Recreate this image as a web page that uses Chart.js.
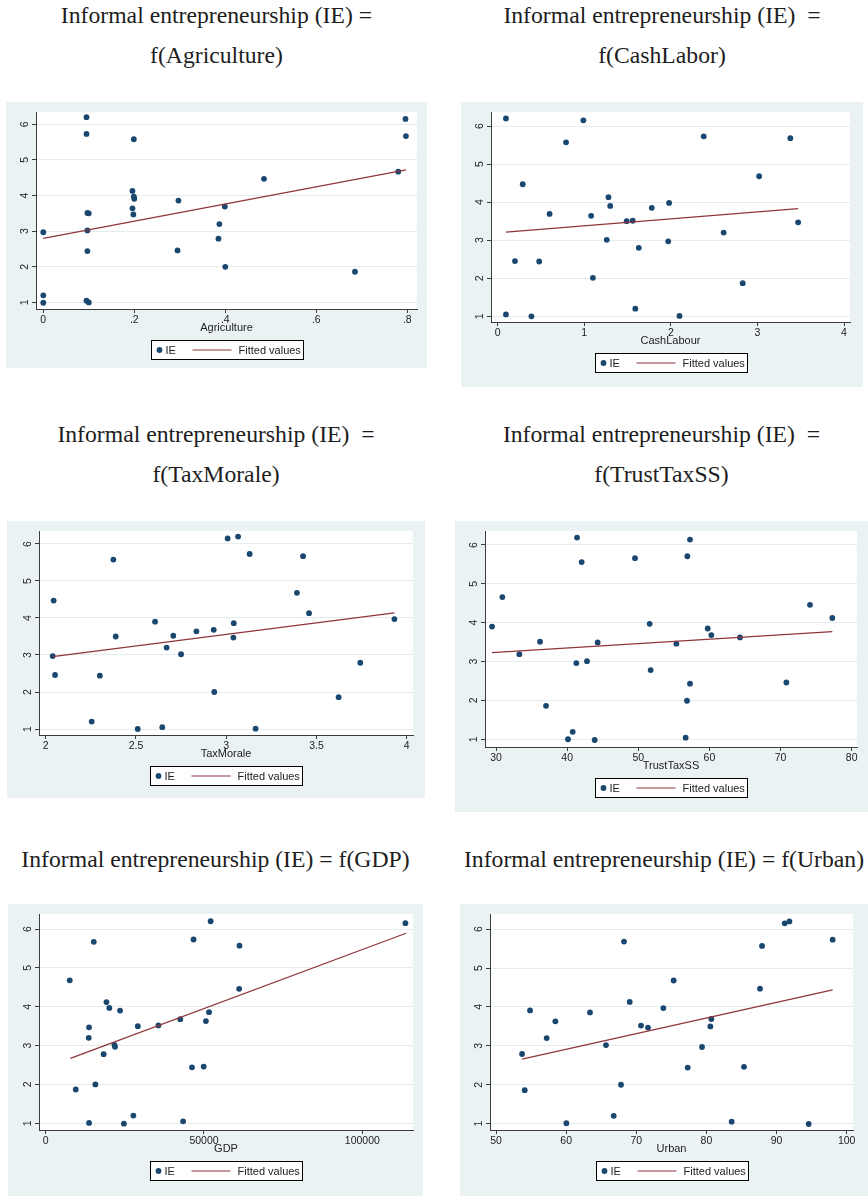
<!DOCTYPE html>
<html>
<head>
<meta charset="utf-8">
<script src="https://cdn.jsdelivr.net/npm/chart.js@4.4.1/dist/chart.umd.min.js"></script>
<style>
  html, body { margin: 0; padding: 0; background: #ffffff; }
  body { position: relative; width: 868px; height: 1196px; overflow: hidden; }
  .title {
    position: absolute;
    font-family: 'Liberation Serif', 'Times New Roman', serif;
    font-size: 23.7px;
    line-height: 40px;
    color: #1d1d1d;
    text-align: center;
    white-space: pre;
  }
  canvas { position: absolute; background: #eaf2f3; }
</style>
</head>
<body>
<script>
// ---- IE axis (shared by all six panels) ----
const ieTicks = [1, 2, 3, 4, 5, 6];
const ieTickLabels = ['1', '2', '3', '4', '5', '6'];

// ---- IE vs Agriculture ----
const agricultureX = [0.095, 0.095, 0.199, 0.796, 0.797, 0.780, 0.485, 0.196, 0.199, 0.200, 0.297, 0.399, 0.196, 0.097,
  0.100, 0.198, 0.387, 0.000, 0.097, 0.385, 0.097, 0.295, 0.400, 0.685, 0.000, 0.000, 0.095, 0.100];
const agricultureIE = [6.20, 5.73, 5.58, 6.15, 5.67, 4.67, 4.47, 4.13, 3.97, 3.91, 3.86, 3.69, 3.64, 3.51,
  3.50, 3.47, 3.20, 2.97, 3.02, 2.79, 2.44, 2.46, 2.00, 1.86, 1.20, 0.99, 1.05, 1.00];
const agricultureFitX = [0, 0.797];
const agricultureFitIE = [2.80, 4.72];
const agricultureTicks = [0, 0.2, 0.4, 0.6, 0.8];
const agricultureTickLabels = ['0', '.2', '.4', '.6', '.8'];

// ---- IE vs CashLabour ----
const cashLabourX = [0.096, 0.99, 0.79, 2.38, 3.38, 3.02, 0.29, 1.28, 1.30, 1.98, 1.78, 0.60, 1.08, 1.49,
  1.56, 3.47, 2.61, 1.26, 1.97, 1.63, 0.20, 0.48, 1.10, 2.83, 1.59, 0.096, 0.39, 2.10];
const cashLabourIE = [6.20, 6.15, 5.57, 5.73, 5.68, 4.68, 4.47, 4.13, 3.90, 3.98, 3.85, 3.69, 3.64, 3.50,
  3.51, 3.47, 3.20, 3.01, 2.97, 2.80, 2.45, 2.44, 2.01, 1.87, 1.20, 1.05, 1.00, 1.01];
const cashLabourFitX = [0.096, 3.47];
const cashLabourFitIE = [3.21, 3.83];
const cashLabourTicks = [0, 1, 2, 3, 4];
const cashLabourTickLabels = ['0', '1', '2', '3', '4'];

// ---- IE vs TaxMorale ----
const taxMoraleX = [3.066, 3.008, 3.130, 3.426, 2.375, 3.392, 2.044, 3.459, 3.932, 2.606, 3.042, 2.931, 2.835, 2.707,
  2.388, 3.040, 2.670, 2.750, 2.039, 3.743, 2.052, 2.300, 2.934, 3.623, 2.255, 2.646, 2.510, 3.163];
const taxMoraleIE = [6.20, 6.15, 5.73, 5.67, 5.58, 4.68, 4.47, 4.13, 3.97, 3.90, 3.86, 3.68, 3.64, 3.52,
  3.50, 3.47, 3.20, 3.02, 2.97, 2.79, 2.46, 2.44, 2.00, 1.86, 1.20, 1.05, 1.00, 1.01];
const taxMoraleFitX = [2.039, 3.932];
const taxMoraleFitIE = [2.955, 4.14];
const taxMoraleTicks = [2, 2.5, 3, 3.5, 4];
const taxMoraleTickLabels = ['2', '2.5', '3', '3.5', '4'];

// ---- IE vs TrustTaxSS ----
const trustTaxX = [41.39, 57.27, 56.90, 49.54, 42.04, 30.89, 74.14, 77.28, 29.44, 51.60, 59.76, 60.27, 64.30, 36.19,
  44.29, 55.35, 33.28, 42.79, 41.29, 51.74, 57.27, 70.82, 56.85, 37.03, 40.78, 56.66, 40.12, 43.87];
const trustTaxIE = [6.19, 6.14, 5.71, 5.66, 5.56, 4.66, 4.46, 4.12, 3.90, 3.97, 3.85, 3.68, 3.62, 3.51,
  3.49, 3.46, 3.19, 3.01, 2.96, 2.78, 2.43, 2.46, 1.99, 1.86, 1.19, 1.04, 1.00, 0.98];
const trustTaxFitX = [29.44, 77.28];
const trustTaxFitIE = [3.23, 3.77];
const trustTaxTicks = [30, 40, 50, 60, 70, 80];
const trustTaxTickLabels = ['30', '40', '50', '60', '70', '80'];

// ---- IE vs GDP ----
const gdpX = [52100, 113600, 15200, 46700, 61200, 7600, 61100, 19200, 20100, 23500, 51600, 42500, 50600, 35600,
  13700, 29100, 13600, 21700, 21900, 18300, 46200, 49900, 15700, 9500, 27700, 43400, 13700, 24700];
const gdpIE = [6.20, 6.15, 5.67, 5.73, 5.57, 4.68, 4.46, 4.12, 3.97, 3.90, 3.86, 3.68, 3.63, 3.52,
  3.47, 3.50, 3.20, 3.02, 2.97, 2.78, 2.44, 2.46, 2.00, 1.87, 1.20, 1.05, 1.01, 0.99];
const gdpFitX = [7800, 113800];
const gdpFitIE = [2.67, 5.89];
const gdpTicks = [0, 50000, 100000];
const gdpTickLabels = ['0', '50000', '100000'];

// ---- IE vs Urban ----
const urbanX = [91.16, 91.83, 68.25, 87.93, 98.00, 75.33, 87.64, 69.06, 73.86, 54.85, 63.40, 80.70, 58.46, 70.67,
  71.67, 80.56, 57.22, 65.68, 79.37, 53.71, 77.33, 85.36, 67.82, 54.09, 66.78, 83.60, 60.03, 94.58];
const urbanIE = [6.15, 6.20, 5.68, 5.57, 5.73, 4.68, 4.47, 4.13, 3.97, 3.91, 3.86, 3.69, 3.63, 3.52,
  3.47, 3.50, 3.20, 3.02, 2.97, 2.79, 2.44, 2.46, 2.00, 1.86, 1.20, 1.05, 1.01, 0.99];
const urbanFitX = [53.71, 98.0];
const urbanFitIE = [2.66, 4.44];
const urbanTicks = [50, 60, 70, 80, 90, 100];
const urbanTickLabels = ['50', '60', '70', '80', '90', '100'];

// ---- styling ----
const SANS = "'Liberation Sans', Arial, Helvetica, sans-serif";
const NAVY = '#1a476f';
const MAROON = '#90353b';
const AXIS = '#3c3c3c';
const TEXT = '#222222';
const X_AXIS_H = 26;

const panels = [
  { title: 'Informal entrepreneurship (IE) =\nf(Agriculture)', titleTop: -5, xTitle: 'Agriculture',
    x: agricultureX, y: agricultureIE, fitX: agricultureFitX, fitY: agricultureFitIE,
    xTicks: agricultureTicks, xLabels: agricultureTickLabels,
    box: { l: 6, t: 102, w: 421, h: 266 }, plot: { l: 36, t: 112, r: 417, b: 309 },
    xRange: [-0.016, 0.8213], yRange: [0.815, 6.345] },
  { title: 'Informal entrepreneurship (IE)  =\nf(CashLabor)', titleTop: -5, xTitle: 'CashLabour',
    x: cashLabourX, y: cashLabourIE, fitX: cashLabourFitX, fitY: cashLabourFitIE,
    xTicks: cashLabourTicks, xLabels: cashLabourTickLabels,
    box: { l: 461, t: 102, w: 402, h: 285 }, plot: { l: 491, t: 112, r: 850, b: 322 },
    xRange: [-0.0765, 4.069], yRange: [0.85, 6.368] },
  { title: 'Informal entrepreneurship (IE)  =\nf(TaxMorale)', titleTop: 414, xTitle: 'TaxMorale',
    x: taxMoraleX, y: taxMoraleIE, fitX: taxMoraleFitX, fitY: taxMoraleFitIE,
    xTicks: taxMoraleTicks, xLabels: taxMoraleTickLabels,
    box: { l: 7, t: 521, w: 418, h: 277 }, plot: { l: 39, t: 531, r: 413, b: 735 },
    xRange: [1.963, 4.035], yRange: [0.838, 6.351] },
  { title: 'Informal entrepreneurship (IE)  =\nf(TrustTaxSS)', titleTop: 414, xTitle: 'TrustTaxSS',
    x: trustTaxX, y: trustTaxIE, fitX: trustTaxFitX, fitY: trustTaxFitIE,
    xTicks: trustTaxTicks, xLabels: trustTaxTickLabels,
    box: { l: 455, t: 521, w: 413, h: 291 }, plot: { l: 485, t: 531, r: 857, b: 747 },
    xRange: [28.45, 80.75], yRange: [0.80, 6.36] },
  { title: 'Informal entrepreneurship (IE) = f(GDP)', titleTop: 838.7, xTitle: 'GDP',
    x: gdpX, y: gdpIE, fitX: gdpFitX, fitY: gdpFitIE,
    xTicks: gdpTicks, xLabels: gdpTickLabels,
    box: { l: 8, t: 904, w: 415, h: 292 }, plot: { l: 39, t: 914, r: 413, b: 1130 },
    xRange: [-2105, 116000], yRange: [0.828, 6.386] },
  { title: 'Informal entrepreneurship (IE) = f(Urban)', titleTop: 838.7, xTitle: 'Urban',
    x: urbanX, y: urbanIE, fitX: urbanFitX, fitY: urbanFitIE,
    xTicks: urbanTicks, xLabels: urbanTickLabels,
    box: { l: 460, t: 904, w: 408, h: 292 }, plot: { l: 490, t: 914, r: 853, b: 1130 },
    xRange: [49.14, 100.9], yRange: [0.836, 6.39] }
];

// white plot region inside the tinted graph region
const plotBackground = {
  id: 'plotBackground',
  beforeDraw(chart) {
    const { ctx, chartArea: a } = chart;
    ctx.save();
    ctx.fillStyle = '#ffffff';
    ctx.fillRect(a.left, a.top, a.right - a.left, a.bottom - a.top);
    ctx.restore();
  }
};

// boxed legend centred under the plot region
const boxedLegend = {
  id: 'boxedLegend',
  afterDraw(chart) {
    const { ctx, chartArea: a } = chart;
    const ds = chart.data.datasets;
    const w = 152, h = 19;
    const left = Math.round((a.left + a.right) / 2 - w / 2) + 0.5;
    const top = Math.round(a.bottom + 31) + 0.5;
    const cy = top + h / 2;
    ctx.save();
    ctx.fillStyle = '#ffffff';
    ctx.fillRect(left, top, w, h);
    ctx.strokeStyle = '#000000';
    ctx.lineWidth = 1;
    ctx.strokeRect(left, top, w, h);
    ctx.fillStyle = NAVY;
    ctx.beginPath();
    ctx.arc(left + 8, cy, 2.9, 0, Math.PI * 2);
    ctx.fill();
    ctx.font = '11px ' + SANS;
    ctx.fillStyle = TEXT;
    ctx.textAlign = 'left';
    ctx.textBaseline = 'middle';
    ctx.fillText(ds[0].label, left + 14, cy + 0.5);
    ctx.strokeStyle = MAROON;
    ctx.lineWidth = 1.2;
    ctx.beginPath();
    ctx.moveTo(left + 41, cy);
    ctx.lineTo(left + 80, cy);
    ctx.stroke();
    ctx.fillText(ds[1].label, left + 87, cy + 0.5);
    ctx.restore();
  }
};

panels.forEach(p => {
  const t = document.createElement('div');
  t.className = 'title';
  t.textContent = p.title;
  t.style.left = p.box.l + 'px';
  t.style.width = p.box.w + 'px';
  t.style.top = p.titleTop + 'px';
  document.body.appendChild(t);

  const c = document.createElement('canvas');
  c.width = p.box.w;
  c.height = p.box.h;
  c.style.left = p.box.l + 'px';
  c.style.top = p.box.t + 'px';
  c.style.width = p.box.w + 'px';
  c.style.height = p.box.h + 'px';
  document.body.appendChild(c);

  const points = p.x.map((x, i) => ({ x: x, y: p.y[i] }));
  const fit = p.fitX.map((x, i) => ({ x: x, y: p.fitY[i] }));

  new Chart(c, {
    type: 'scatter',
    data: {
      datasets: [
        { label: 'IE', data: points, order: 1, pointRadius: 2.9, pointHoverRadius: 2.9,
          pointBackgroundColor: NAVY, pointBorderWidth: 0, borderColor: NAVY, showLine: false },
        { label: 'Fitted values', data: fit, order: 0, showLine: true, pointRadius: 0,
          borderColor: MAROON, borderWidth: 1.2, fill: false }
      ]
    },
    options: {
      responsive: false,
      animation: false,
      events: [],
      layout: {
        padding: {
          left: 0,
          top: p.plot.t - p.box.t,
          right: p.box.l + p.box.w - p.plot.r,
          bottom: p.box.t + p.box.h - p.plot.b - X_AXIS_H
        }
      },
      plugins: { legend: { display: false }, tooltip: { enabled: false } },
      scales: {
        x: {
          type: 'linear', position: 'bottom',
          min: p.xRange[0], max: p.xRange[1],
          afterBuildTicks: s => { s.ticks = p.xTicks.map(v => ({ value: v })); },
          afterFit: s => { s.height = X_AXIS_H; s.paddingLeft = 0; s.paddingRight = 0; },
          ticks: { callback: (v, i) => p.xLabels[i], autoSkip: false, minRotation: 0, maxRotation: 0,
            padding: 1, color: TEXT, font: { family: SANS, size: 10.5 } },
          grid: { display: true, drawOnChartArea: false, drawTicks: true, tickLength: 4, tickColor: AXIS },
          border: { display: true, color: AXIS, width: 1 },
          title: { display: true, text: p.xTitle, color: TEXT, padding: 0, font: { family: SANS, size: 11 } }
        },
        y: {
          type: 'linear', position: 'left',
          min: p.yRange[0], max: p.yRange[1],
          afterBuildTicks: s => { s.ticks = ieTicks.map(v => ({ value: v })); },
          afterFit: s => { s.width = p.plot.l - p.box.l; s.paddingTop = 0; s.paddingBottom = 0; },
          ticks: { callback: (v, i) => ieTickLabels[i], minRotation: 90, maxRotation: 90, crossAlign: 'center',
            padding: 4, color: TEXT, font: { family: SANS, size: 10.5 } },
          grid: { color: '#e4ecee', lineWidth: 1, drawTicks: true, tickLength: 4, tickColor: AXIS },
          border: { display: true, color: AXIS, width: 1 }
        }
      }
    },
    plugins: [plotBackground, boxedLegend]
  });
});
</script>
</body>
</html>
